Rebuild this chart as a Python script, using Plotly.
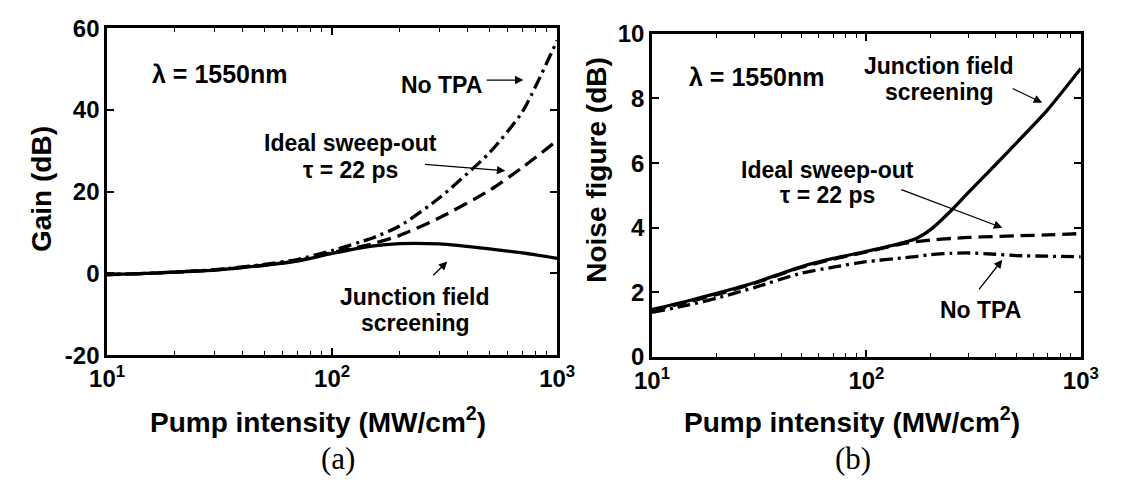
import numpy as np
import plotly.graph_objects as go
from plotly.subplots import make_subplots

# ---- data (a) Gain ----
x_a = [10, 15, 20, 30, 50, 70, 100, 150, 200, 300, 500, 700, 1000]
gain_jfs = [-0.3, 0.0, 0.3, 0.8, 2.0, 3.0, 4.9, 6.7, 7.3, 7.2, 6.0, 5.0, 3.7]
gain_ideal = [-0.3, 0.0, 0.3, 0.8, 2.0, 3.1, 5.1, 7.2, 9.3, 13.6, 20.3, 25.9, 32.5]
gain_notpa = [-0.3, 0.0, 0.35, 0.9, 2.2, 3.4, 5.6, 8.6, 11.6, 18.5, 29.5, 39.5, 57.0]

# ---- data (b) Noise figure ----
x_b = [10, 15, 20, 30, 50, 70, 100, 150, 170, 200, 250, 300, 400, 500, 700, 1000]
nf_jfs = [1.47, 1.75, 1.97, 2.3, 2.8, 3.05, 3.27, 3.55, 3.66, 3.95, 4.55, 5.1, 5.95, 6.62, 7.65, 8.93]
nf_ideal = [1.43, 1.72, 1.93, 2.28, 2.78, 3.03, 3.25, 3.52, 3.57, 3.62, 3.67, 3.7, 3.73, 3.75, 3.78, 3.82]
nf_notpa = [1.38, 1.62, 1.82, 2.15, 2.6, 2.78, 2.95, 3.07, 3.11, 3.17, 3.21, 3.22, 3.18, 3.14, 3.12, 3.1]

xtick_vals = [10, 100, 1000]
xtick_text = ["10<sup>1</sup>", "10<sup>2</sup>", "10<sup>3</sup>"]
minor_vals = [20, 30, 40, 50, 60, 70, 80, 90, 200, 300, 400, 500, 600, 700, 800, 900]
ytick_a = [-20, 0, 20, 40, 60]
ytick_a_text = ["-20", "0", "20", "40", "60"]
ytick_b = [0, 2, 4, 6, 8, 10]

FONT = "Liberation Sans, Arial, sans-serif"
LW = 3.3
DASH = "14px,7px"
DASHDOT = "13px,5px,3px,5px"
SM = 0.6

fig = make_subplots(rows=1, cols=2)

fig.add_trace(go.Scatter(x=x_a, y=gain_notpa, mode="lines", line=dict(color="black", width=LW, dash=DASHDOT, shape="spline", smoothing=SM)), 1, 1)
fig.add_trace(go.Scatter(x=x_a, y=gain_ideal, mode="lines", line=dict(color="black", width=LW, dash=DASH, shape="spline", smoothing=SM)), 1, 1)
fig.add_trace(go.Scatter(x=x_a, y=gain_jfs, mode="lines", line=dict(color="black", width=LW, shape="spline", smoothing=SM)), 1, 1)

fig.add_trace(go.Scatter(x=x_b, y=nf_notpa, mode="lines", line=dict(color="black", width=LW, dash=DASHDOT, shape="spline", smoothing=SM)), 1, 2)
fig.add_trace(go.Scatter(x=x_b, y=nf_ideal, mode="lines", line=dict(color="black", width=LW, dash=DASH, shape="spline", smoothing=SM)), 1, 2)
fig.add_trace(go.Scatter(x=x_b, y=nf_jfs, mode="lines", line=dict(color="black", width=LW, shape="spline", smoothing=SM)), 1, 2)

common_x = dict(type="log", range=[1, 3], tickvals=xtick_vals, ticktext=xtick_text,
                ticks="inside", ticklen=7, tickwidth=1.5, tickcolor="black",
                minor=dict(tickvals=minor_vals, ticks="inside", ticklen=4, tickwidth=1.2, tickcolor="black"),
                showline=True, linecolor="black", linewidth=2.5, mirror="ticks",
                showgrid=False, zeroline=False,
                tickfont=dict(family=FONT, size=24, color="black", weight="bold"))
common_y = dict(ticks="inside", ticklen=7, tickwidth=1.5, tickcolor="black",
                showline=True, linecolor="black", linewidth=2.5, mirror="ticks",
                showgrid=False, zeroline=False,
                tickfont=dict(family=FONT, size=24, color="black", weight="bold"))

fig.update_xaxes(domain=[92/1123, 557/1123], row=1, col=1, **common_x)
fig.update_xaxes(domain=[655/1123, 1098/1123], row=1, col=2, **common_x)
fig.update_yaxes(domain=[1-361/491, 1-15/491], range=[-20, 60], tickvals=ytick_a, ticktext=ytick_a_text, row=1, col=1, **common_y)
fig.update_yaxes(domain=[1-363/491, 1-21/491], range=[0, 10], tickvals=ytick_b, row=1, col=2, **common_y)

L = np.log10
ann = []

def txt(x, y, s, xref, yref, size=23, xanchor="center"):
    ann.append(dict(x=L(x), y=y, xref=xref, yref=yref, text=s, showarrow=False,
                    xanchor=xanchor, yanchor="middle",
                    font=dict(family=FONT, size=size, color="black", weight="bold")))

def arrow(x0, y0, x1, y1, xref, yref):
    ann.append(dict(x=L(x1), y=y1, ax=L(x0), ay=y0, xref=xref, yref=yref, axref=xref, ayref=yref,
                    text="", showarrow=True, arrowhead=2, arrowsize=1.3, arrowwidth=1.3, arrowcolor="black"))

# panel (a)
txt(10**1.189, 48.9, "λ = 1550nm", "x", "y", size=25, xanchor="left")
txt(10**2.484, 46.1, "No TPA", "x", "y")
arrow(10**2.68, 47.3, 10**2.85, 47.3, "x", "y")
txt(10**2.08, 31.8, "Ideal sweep-out", "x", "y")
txt(10**2.08, 25.3, "τ = 22 ps", "x", "y")
arrow(10**2.406, 26.7, 10**2.77, 25.1, "x", "y")
txt(10**2.37, -5.7, "Junction field", "x", "y")
txt(10**2.37, -12.1, "screening", "x", "y")
arrow(10**2.443, -0.8, 10**2.512, 2.9, "x", "y")

# panel (b)
txt(10**1.163, 8.66, "λ = 1550nm", "x2", "y2", size=25, xanchor="left")
txt(10**2.34, 9.0, "Junction field", "x2", "y2")
txt(10**2.34, 8.19, "screening", "x2", "y2")
arrow(10**2.675, 8.33, 10**2.82, 7.87, "x2", "y2")
txt(10**1.817, 5.79, "Ideal sweep-out", "x2", "y2")
txt(10**1.817, 5.0, "τ = 22 ps", "x2", "y2")
arrow(10**2.156, 5.2, 10**2.634, 4.0, "x2", "y2")
txt(10**2.53, 1.46, "No TPA", "x2", "y2")
arrow(10**2.52, 2.05, 10**2.634, 3.01, "x2", "y2")

# axis titles and panel labels (paper coords)
def ptxt(xp, yp, s, size, angle=0, family=FONT, weight="bold"):
    ann.append(dict(x=xp/1123, y=1-yp/491, xref="paper", yref="paper", text=s, showarrow=False,
                    xanchor="center", yanchor="middle", textangle=angle,
                    font=dict(family=family, size=size, color="black", weight=weight)))

ptxt(310, 430, "Pump intensity (MW/cm<sup>2</sup>)", 28)
ptxt(862, 430, "Pump intensity (MW/cm<sup>2</sup>)", 28)
ptxt(25, 185, "Gain (dB)", 28, angle=-90)
ptxt(598, 165, "Noise figure (dB)", 28, angle=-90)
ptxt(331, 470, "(a)", 31, family="Liberation Serif, Times New Roman, serif", weight="normal")
ptxt(863, 470, "(b)", 31, family="Liberation Serif, Times New Roman, serif", weight="normal")

fig.update_layout(width=1123, height=491, margin=dict(l=0, r=0, t=0, b=0),
                  paper_bgcolor="white", plot_bgcolor="white", showlegend=False,
                  annotations=ann)

fig.write_html("out.html", config={"displayModeBar": False},
               post_script="document.body.style.margin='0';document.body.style.overflow='hidden';")
